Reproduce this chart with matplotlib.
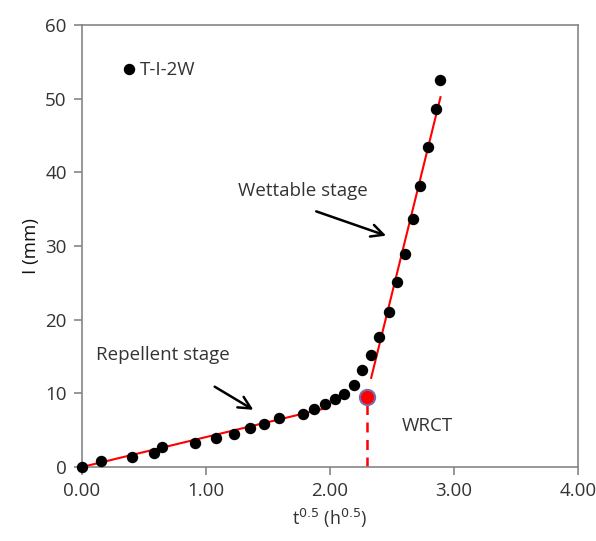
import matplotlib
matplotlib.use("Agg")
import matplotlib.pyplot as plt

plt.rcParams['font.family'] = ['Open Sans', 'DejaVu Sans']

# measured points (t^0.5, l)
t_sqrt = [0.0, 0.154, 0.401, 0.583, 0.642, 0.913, 1.079, 1.225, 1.358, 1.469,
          1.585, 1.780, 1.873, 1.959, 2.040, 2.115, 2.190, 2.260, 2.329, 2.399,
          2.473, 2.543, 2.603, 2.666, 2.726, 2.788, 2.851, 2.889]
length = [0.0, 0.76, 1.39, 1.93, 2.65, 3.23, 3.99, 4.53, 5.34, 5.83,
          6.64, 7.22, 7.94, 8.52, 9.24, 9.87, 11.1, 13.1, 15.2, 17.7,
          21.1, 25.1, 28.9, 33.6, 38.2, 43.4, 48.6, 52.6]

# fitted lines
rep_x = [0.0, 1.965]
rep_y = [0.0, 7.98]
wet_x = [2.332, 2.891]
wet_y = [12.1, 50.2]

# WRCT point
wrct_x = 2.30
wrct_y = 9.5

fs = 13.5

fig = plt.figure(figsize=(5.96, 5.41), dpi=100)
ax = fig.add_axes([0.1376, 0.1368, 0.9698 - 0.1376, 0.9538 - 0.1368])

ax.plot(rep_x, rep_y, color='red', lw=1.5, zorder=2)
ax.plot(wet_x, wet_y, color='red', lw=1.5, zorder=2)
ax.plot([wrct_x, wrct_x], [0, wrct_y], color='red', lw=1.8, ls=(0, (4, 3)), zorder=2)
ax.plot(t_sqrt, length, 'o', color='black', ms=7.2, label='T-I-2W', zorder=5,
        clip_on=False)
ax.plot([wrct_x], [wrct_y], 'o', color='red', ms=11, mec='#7a6cb0', mew=1.5, zorder=6)

ax.set_xlim(0, 4)
ax.set_ylim(0, 60)
ax.set_xticks([0, 1, 2, 3, 4])
ax.set_xticklabels(['0.00', '1.00', '2.00', '3.00', '4.00'])
ax.set_yticks(range(0, 61, 10))

for s in ax.spines.values():
    s.set_color('#868686')
    s.set_linewidth(1.2)
ax.tick_params(direction='out', length=6, width=1.2, color='#868686',
               labelsize=fs, labelcolor='#333333', pad=5)

ax.set_xlabel('t$^{0.5}$ (h$^{0.5}$)', fontsize=13, color='#333333', labelpad=5)
ax.set_ylabel('I (mm)', fontsize=fs, color='#111111', labelpad=4)

ax.text(0.115, 15.2, 'Repellent stage', fontsize=fs, color='#333333', va='center')
ax.text(1.26, 37.5, 'Wettable stage', fontsize=fs, color='#333333', va='center')
ax.text(2.58, 5.6, 'WRCT', fontsize=fs, color='#333333', va='center')

ax.annotate('', xy=(1.382, 7.76), xytext=(1.07, 10.9),
            arrowprops=dict(arrowstyle='->', color='black', lw=1.8,
                            mutation_scale=22, shrinkA=0, shrinkB=0))
ax.annotate('', xy=(2.453, 31.4), xytext=(1.889, 34.7),
            arrowprops=dict(arrowstyle='->', color='black', lw=1.8,
                            mutation_scale=22, shrinkA=0, shrinkB=0))

ax.legend(loc='upper left', bbox_to_anchor=(0.06, 0.935), frameon=False,
          handletextpad=0.1, handlelength=1.0, fontsize=fs,
          labelcolor='#333333', borderaxespad=0)

fig.savefig('out.png', dpi=100)
